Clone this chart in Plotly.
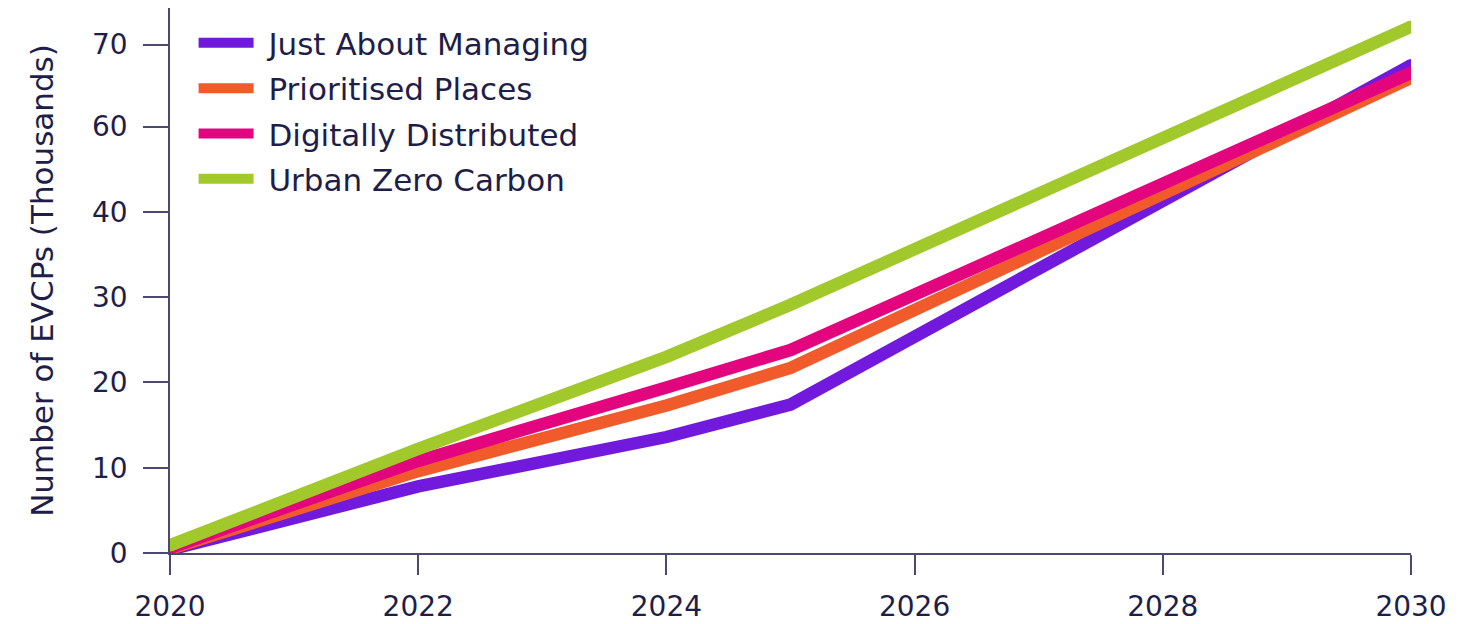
import plotly.graph_objects as go

years = [2020, 2022, 2024, 2025, 2030]
series_names = ["Just About Managing", "Prioritised Places", "Digitally Distributed", "Urban Zero Carbon"]
just_about_managing = [0.4, 7.8, 13.6, 17.4, 57.2]
prioritised_places = [0.5, 9.6, 17.3, 21.7, 55.7]
digitally_distributed = [0.6, 10.8, 19.4, 23.8, 56.3]
urban_zero_carbon = [0.9, 12.2, 23.0, 29.1, 61.7]
y_tick_vals = [0, 10, 20, 30, 40, 50, 59.6]
y_tick_text = ["0", "10", "20", "30", "40", "60", "70"]
x_tick_vals = [2020, 2022, 2024, 2026, 2028, 2030]

colors = ["#7219DE", "#F15B2C", "#E3057E", "#A2C92B"]
TEXT = "#1E1E48"
AXIS = "#4A4A6E"
FONT = "'DejaVu Sans', 'Open Sans', sans-serif"

fig = go.Figure()
all_series = [just_about_managing, prioritised_places, digitally_distributed, urban_zero_carbon]
for name, vals, col in zip(series_names, all_series, colors):
    fig.add_trace(go.Scatter(
        x=years, y=vals, mode="lines", name="\u00a0" + name, legendgroup=name,
        line=dict(color=col, width=12.5),
    ))
    fig.add_trace(go.Scatter(
        x=[years[0], years[-1]], y=[vals[0], vals[-1]], mode="markers",
        marker=dict(color=col, size=12.5, line=dict(width=0)),
        showlegend=False, hoverinfo="skip", legendgroup=name,
    ))

fig.update_layout(
    width=1478, height=624,
    margin=dict(l=170, r=67, t=8, b=71),
    paper_bgcolor="white", plot_bgcolor="white",
    font=dict(family=FONT, color=TEXT, size=30),
    showlegend=True,
    legend=dict(
        x=0.019, y=0.985, xanchor="left", yanchor="top",
        bgcolor="rgba(0,0,0,0)", font=dict(size=31, color=TEXT),
        itemwidth=55, tracegroupgap=2,
    ),
    xaxis=dict(
        range=[2020, 2030], tickvals=x_tick_vals, ticks="outside", ticklen=20,
        tickwidth=1.5, tickcolor=AXIS, showline=True, linecolor=AXIS, linewidth=1.5,
        showgrid=False, zeroline=False, ticklabelstandoff=8, automargin=False,
        tickfont=dict(size=28, color=TEXT),
    ),
    yaxis=dict(
        range=[0, 63.9], tickvals=y_tick_vals, ticktext=y_tick_text, ticks="outside",
        ticklen=25, tickwidth=1.5, tickcolor=AXIS, showline=True, linecolor=AXIS,
        linewidth=1.5, showgrid=False, zeroline=False, ticklabelstandoff=10,
        automargin=False,
        tickfont=dict(size=28, color=TEXT),
        title=dict(text="Number of EVCPs (Thousands)", font=dict(size=31, color=TEXT), standoff=29),
    ),
)

fig.write_html("out.html", config={"displayModeBar": False},
               post_script="document.body.style.margin='0';")
